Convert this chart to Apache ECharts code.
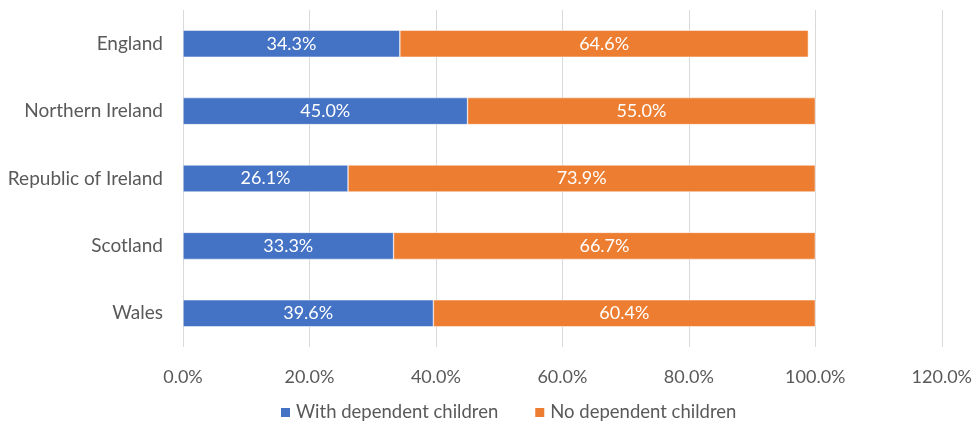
<!DOCTYPE html>
<html>
<head>
<meta charset="utf-8">
<script src="https://cdn.jsdelivr.net/npm/echarts@6/dist/echarts.min.js"></script>
<style>
  html, body { margin: 0; padding: 0; background: #fff; }
  #chart { width: 975px; height: 430px; }
</style>
</head>
<body>
<div id="chart"></div>
<script>
// Share of households by nation
const categories = ['England', 'Northern Ireland', 'Republic of Ireland', 'Scotland', 'Wales'];
const withChildren = [34.3, 45.0, 26.1, 33.3, 39.6];
const noChildren = [64.6, 55.0, 73.9, 66.7, 60.4];
const seriesNames = ['With dependent children', 'No dependent children'];

const FONT = 'Lato, "Open Sans", sans-serif';

const chart = echarts.init(document.getElementById('chart'));

const barLabel = {
  show: true,
  position: 'inside',
  color: '#ffffff',
  fontFamily: FONT,
  fontSize: 18,
  formatter: p => p.value.toFixed(1) + '%'
};

chart.setOption({
  animation: false,
  grid: { left: 183, right: 31, top: 10, bottom: 83, containLabel: false },
  legend: {
    bottom: 3,
    left: 274,
    itemWidth: 11,
    itemHeight: 11,
    itemGap: 35,
    icon: 'rect',
    textStyle: { color: '#595959', fontFamily: FONT, fontSize: 18.5 },
    data: seriesNames
  },
  xAxis: {
    type: 'value',
    min: 0,
    max: 120,
    interval: 20,
    axisLine: { show: false },
    axisTick: { show: false },
    splitLine: { lineStyle: { color: '#d9d9d9', width: 1 } },
    axisLabel: {
      color: '#595959',
      fontFamily: FONT,
      fontSize: 18,
      margin: 21,
      formatter: v => v.toFixed(1) + '%'
    }
  },
  yAxis: {
    type: 'category',
    inverse: true,
    data: categories,
    axisLine: { show: false },
    axisTick: { show: false },
    axisLabel: { color: '#595959', fontFamily: FONT, fontSize: 19, margin: 20 }
  },
  series: [
    {
      name: seriesNames[0],
      type: 'bar',
      stack: 'total',
      barWidth: 27,
      data: withChildren,
      itemStyle: { color: '#4472C4', borderColor: '#ffffff', borderWidth: 0.5 },
      label: barLabel
    },
    {
      name: seriesNames[1],
      type: 'bar',
      stack: 'total',
      barWidth: 27,
      data: noChildren,
      itemStyle: { color: '#ED7D31', borderColor: '#ffffff', borderWidth: 0.5 },
      label: barLabel
    }
  ]
});
</script>
</body>
</html>
